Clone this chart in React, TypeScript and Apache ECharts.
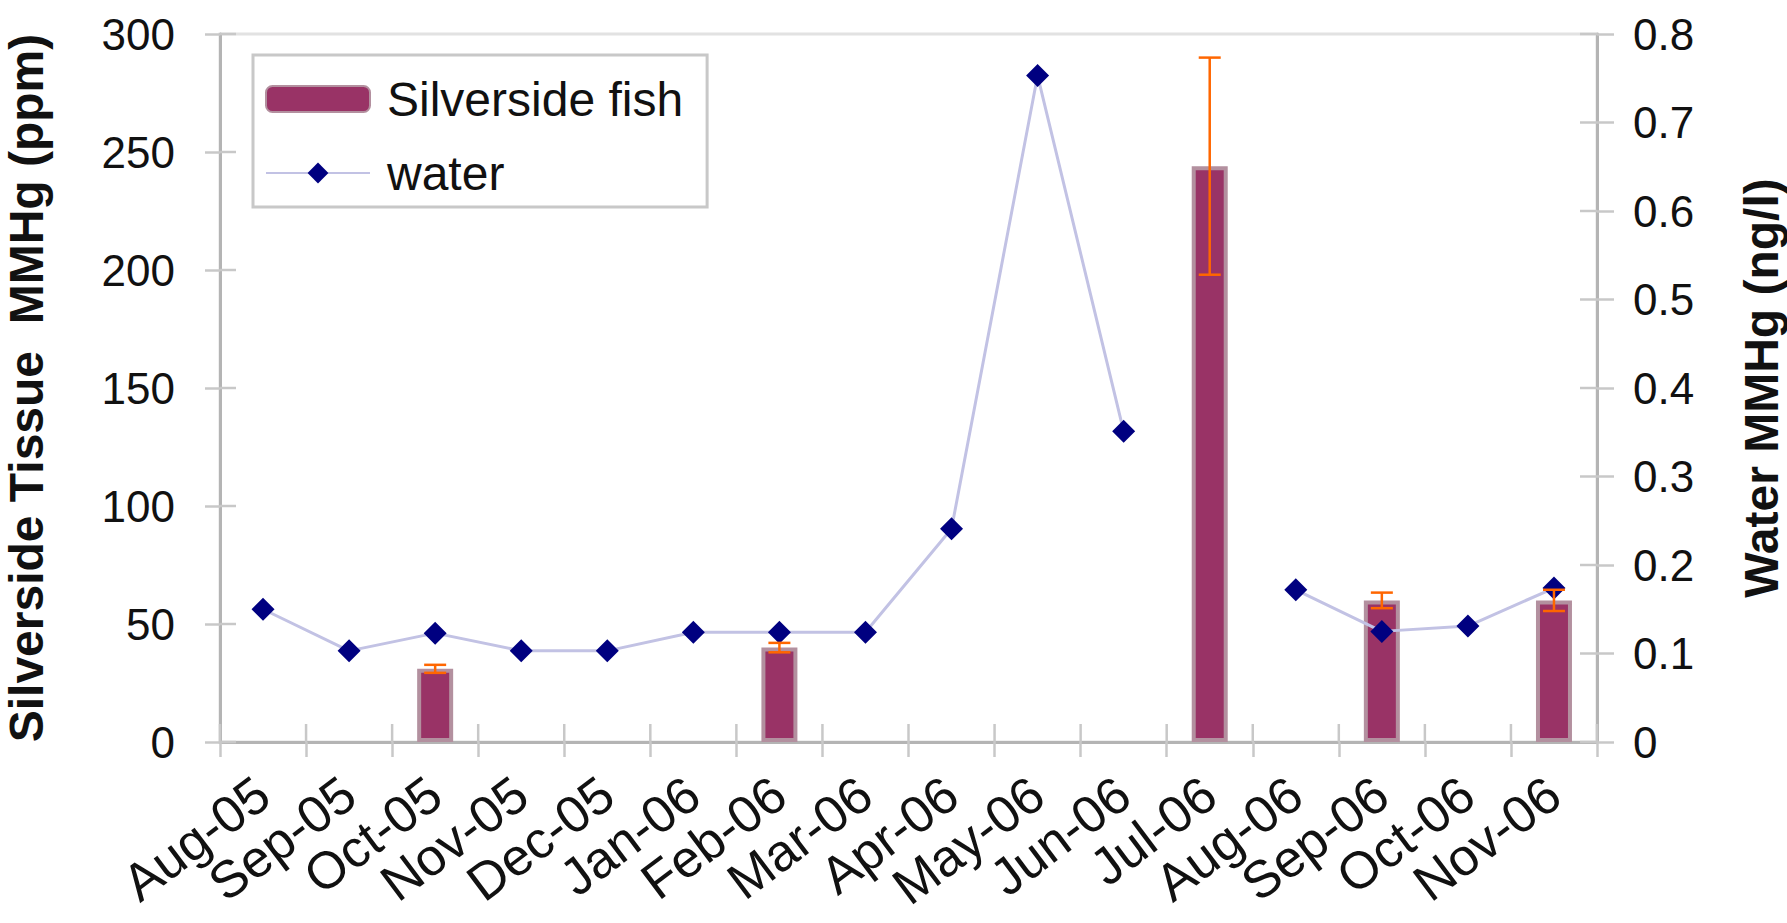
import React, { useEffect, useRef } from "react";
import * as echarts from "echarts";

const months = ["Aug-05", "Sep-05", "Oct-05", "Nov-05", "Dec-05", "Jan-06", "Feb-06", "Mar-06", "Apr-06", "May-06", "Jun-06", "Jul-06", "Aug-06", "Sep-06", "Oct-06", "Nov-06"];
const water = [0.15, 0.103, 0.123, 0.103, 0.103, 0.124, 0.124, 0.124, 0.241, 0.753, 0.351, null, 0.172, 0.125, 0.131, 0.174];
const fish = [null, null, 31, null, null, null, 40, null, null, null, null, 244, null, 60, null, 60];
const fishErr = [null, null, 1.7, null, null, null, 2, null, null, null, null, 46, null, 3.3, null, 4.5];
const leftAxis = { min: 0, max: 300, interval: 50 };
const rightAxis = { min: 0, max: 0.8, interval: 0.1 };

const FONT = "'Liberation Sans', Arial, sans-serif";

export default function App() {
  const ref = useRef<HTMLDivElement>(null);
  useEffect(() => {
    document.body.style.margin = "0";
    const chart = echarts.init(ref.current!, null, { renderer: "svg" });
    const barData = fish.map((v) => (v == null ? "-" : v));
    const errData = fish
      .map((v, i) => (v == null || fishErr[i] == null ? null : [i, v - (fishErr[i] as number), v + (fishErr[i] as number)]))
      .filter(Boolean);
    const lineData = water.map((v) => (v == null ? "-" : v));
    const axisLineColor = "#b4b4b4";
    const tickColor = "#c8c8c8";
    const hidden = { show: false };
    chart.setOption({
      animation: false,
      backgroundColor: "#fff",
      textStyle: { fontFamily: FONT },
      grid: {
        left: 220,
        right: 190,
        top: 34,
        bottom: 181,
        containLabel: false,
        outerBoundsMode: "none",
        show: true,
        borderColor: "#e2e2e2",
        borderWidth: 3,
        backgroundColor: "transparent",
      },
      legend: {
        left: 253,
        top: 55,
        orient: "vertical",
        itemWidth: 104,
        itemHeight: 26,
        itemGap: 26,
        padding: [20, 24, 10, 12],
        borderColor: "#c8c8c8",
        borderWidth: 3,
        textStyle: { fontSize: 48, fontFamily: FONT, color: "#111", padding: [0, 0, 0, 12] },
        data: ["Silverside fish", "water"],
      },
      xAxis: {
        type: "category",
        data: months,
        boundaryGap: true,
        position: "bottom",
        axisLine: { show: true, onZero: false, lineStyle: { color: axisLineColor, width: 3 } },
        axisTick: { show: true, inside: false, length: 15, interval: 0, alignWithLabel: false, lineStyle: { color: tickColor, width: 2.5 } },
        axisLabel: {
          show: true,
          interval: 0,
          rotate: 37,
          margin: 46,
          fontSize: 52,
          color: "#111",
          fontFamily: FONT,
        },
        splitLine: hidden,
      },
      yAxis: [
        {
          type: "value",
          ...leftAxis,
          position: "left",
          name: "Silverside Tissue  MMHg (ppm)",
          nameLocation: "middle",
          nameRotate: 90,
          nameGap: 170,
          nameTextStyle: { fontSize: 48, fontWeight: "bold", color: "#111", fontFamily: FONT },
          axisLine: { show: true, onZero: false, lineStyle: { color: axisLineColor, width: 3 } },
          axisTick: { show: true, inside: false, length: 15, lineStyle: { color: tickColor, width: 2.5 } },
          axisLabel: { fontSize: 44, color: "#111", margin: 45, fontFamily: FONT, showMinLabel: true },
          splitLine: hidden,
        },
        {
          type: "value",
          ...rightAxis,
          position: "right",
          name: "Water MMHg (ng/l)",
          nameLocation: "middle",
          nameRotate: 90,
          nameGap: 140,
          nameTextStyle: { fontSize: 48, lineHeight: 48, fontWeight: "bold", color: "#111", fontFamily: FONT },
          axisLine: { show: true, onZero: false, lineStyle: { color: axisLineColor, width: 3 } },
          axisTick: { show: true, inside: false, length: 17, lineStyle: { color: tickColor, width: 2.5 } },
          axisLabel: {
            fontSize: 44,
            color: "#111",
            margin: 36,
            fontFamily: FONT,
            formatter: (v: number) => String(+v.toFixed(1)),
          },
          splitLine: hidden,
        },
      ],
      series: [
        {
          name: "Silverside fish",
          type: "bar",
          yAxisIndex: 0,
          barWidth: 36,
          data: barData,
          z: 2,
          itemStyle: { color: "#993366", borderColor: "#b3909f", borderWidth: 4 },
        },
        {
          name: "water",
          type: "line",
          yAxisIndex: 1,
          data: lineData,
          connectNulls: false,
          symbol: "diamond",
          symbolSize: 23,
          z: 3,
          lineStyle: { color: "#c2c2e4", width: 3 },
          itemStyle: { color: "#000080" },
        },
        {
          name: "err",
          type: "custom",
          yAxisIndex: 0,
          z: 4,
          data: errData,
          encode: { x: 0, y: [1, 2] },
          renderItem: (params: any, api: any) => {
            const x = api.value(0);
            const lo = api.coord([x, api.value(1)]);
            const hi = api.coord([x, api.value(2)]);
            const cap = 11;
            const style = { stroke: "#ff6600", lineWidth: 2.5 };
            return {
              type: "group",
              children: [
                { type: "line", shape: { x1: lo[0], y1: lo[1], x2: hi[0], y2: hi[1] }, style },
                { type: "line", shape: { x1: hi[0] - cap, y1: hi[1], x2: hi[0] + cap, y2: hi[1] }, style },
                { type: "line", shape: { x1: lo[0] - cap, y1: lo[1], x2: lo[0] + cap, y2: lo[1] }, style },
              ],
            };
          },
        },
      ],
    });

    // inner halves of the crossing tick marks, placed through the axes' own scales
    const tickStyle = { stroke: tickColor, lineWidth: 2.5 };
    const c0 = chart.convertToPixel({ xAxisIndex: 0 }, months[0]) as number;
    const c1 = chart.convertToPixel({ xAxisIndex: 0 }, months[1]) as number;
    const band = c1 - c0;
    const xLeft = c0 - band / 2;
    const xRight = xLeft + band * months.length;
    const yBase = chart.convertToPixel({ yAxisIndex: 0 }, 0) as number;
    const inner: any[] = [];
    for (let v = leftAxis.min; v <= leftAxis.max; v += leftAxis.interval) {
      const y = chart.convertToPixel({ yAxisIndex: 0 }, v) as number;
      inner.push({ type: "line", silent: true, z: 1, shape: { x1: xLeft, y1: y, x2: xLeft + 16, y2: y }, style: tickStyle });
    }
    for (let k = 0; k <= 8; k++) {
      const v = rightAxis.min + k * rightAxis.interval;
      const y = chart.convertToPixel({ yAxisIndex: 1 }, v) as number;
      inner.push({ type: "line", silent: true, z: 1, shape: { x1: xRight - 17, y1: y, x2: xRight, y2: y }, style: tickStyle });
    }
    for (let k = 0; k <= months.length; k++) {
      const x = xLeft + k * band;
      inner.push({ type: "line", silent: true, z: 1, shape: { x1: x, y1: yBase - 18, x2: x, y2: yBase }, style: tickStyle });
    }
    chart.setOption({ graphic: inner });
    return () => chart.dispose();
  }, []);
  return <div ref={ref} style={{ width: 1787, height: 923 }} />;
}
